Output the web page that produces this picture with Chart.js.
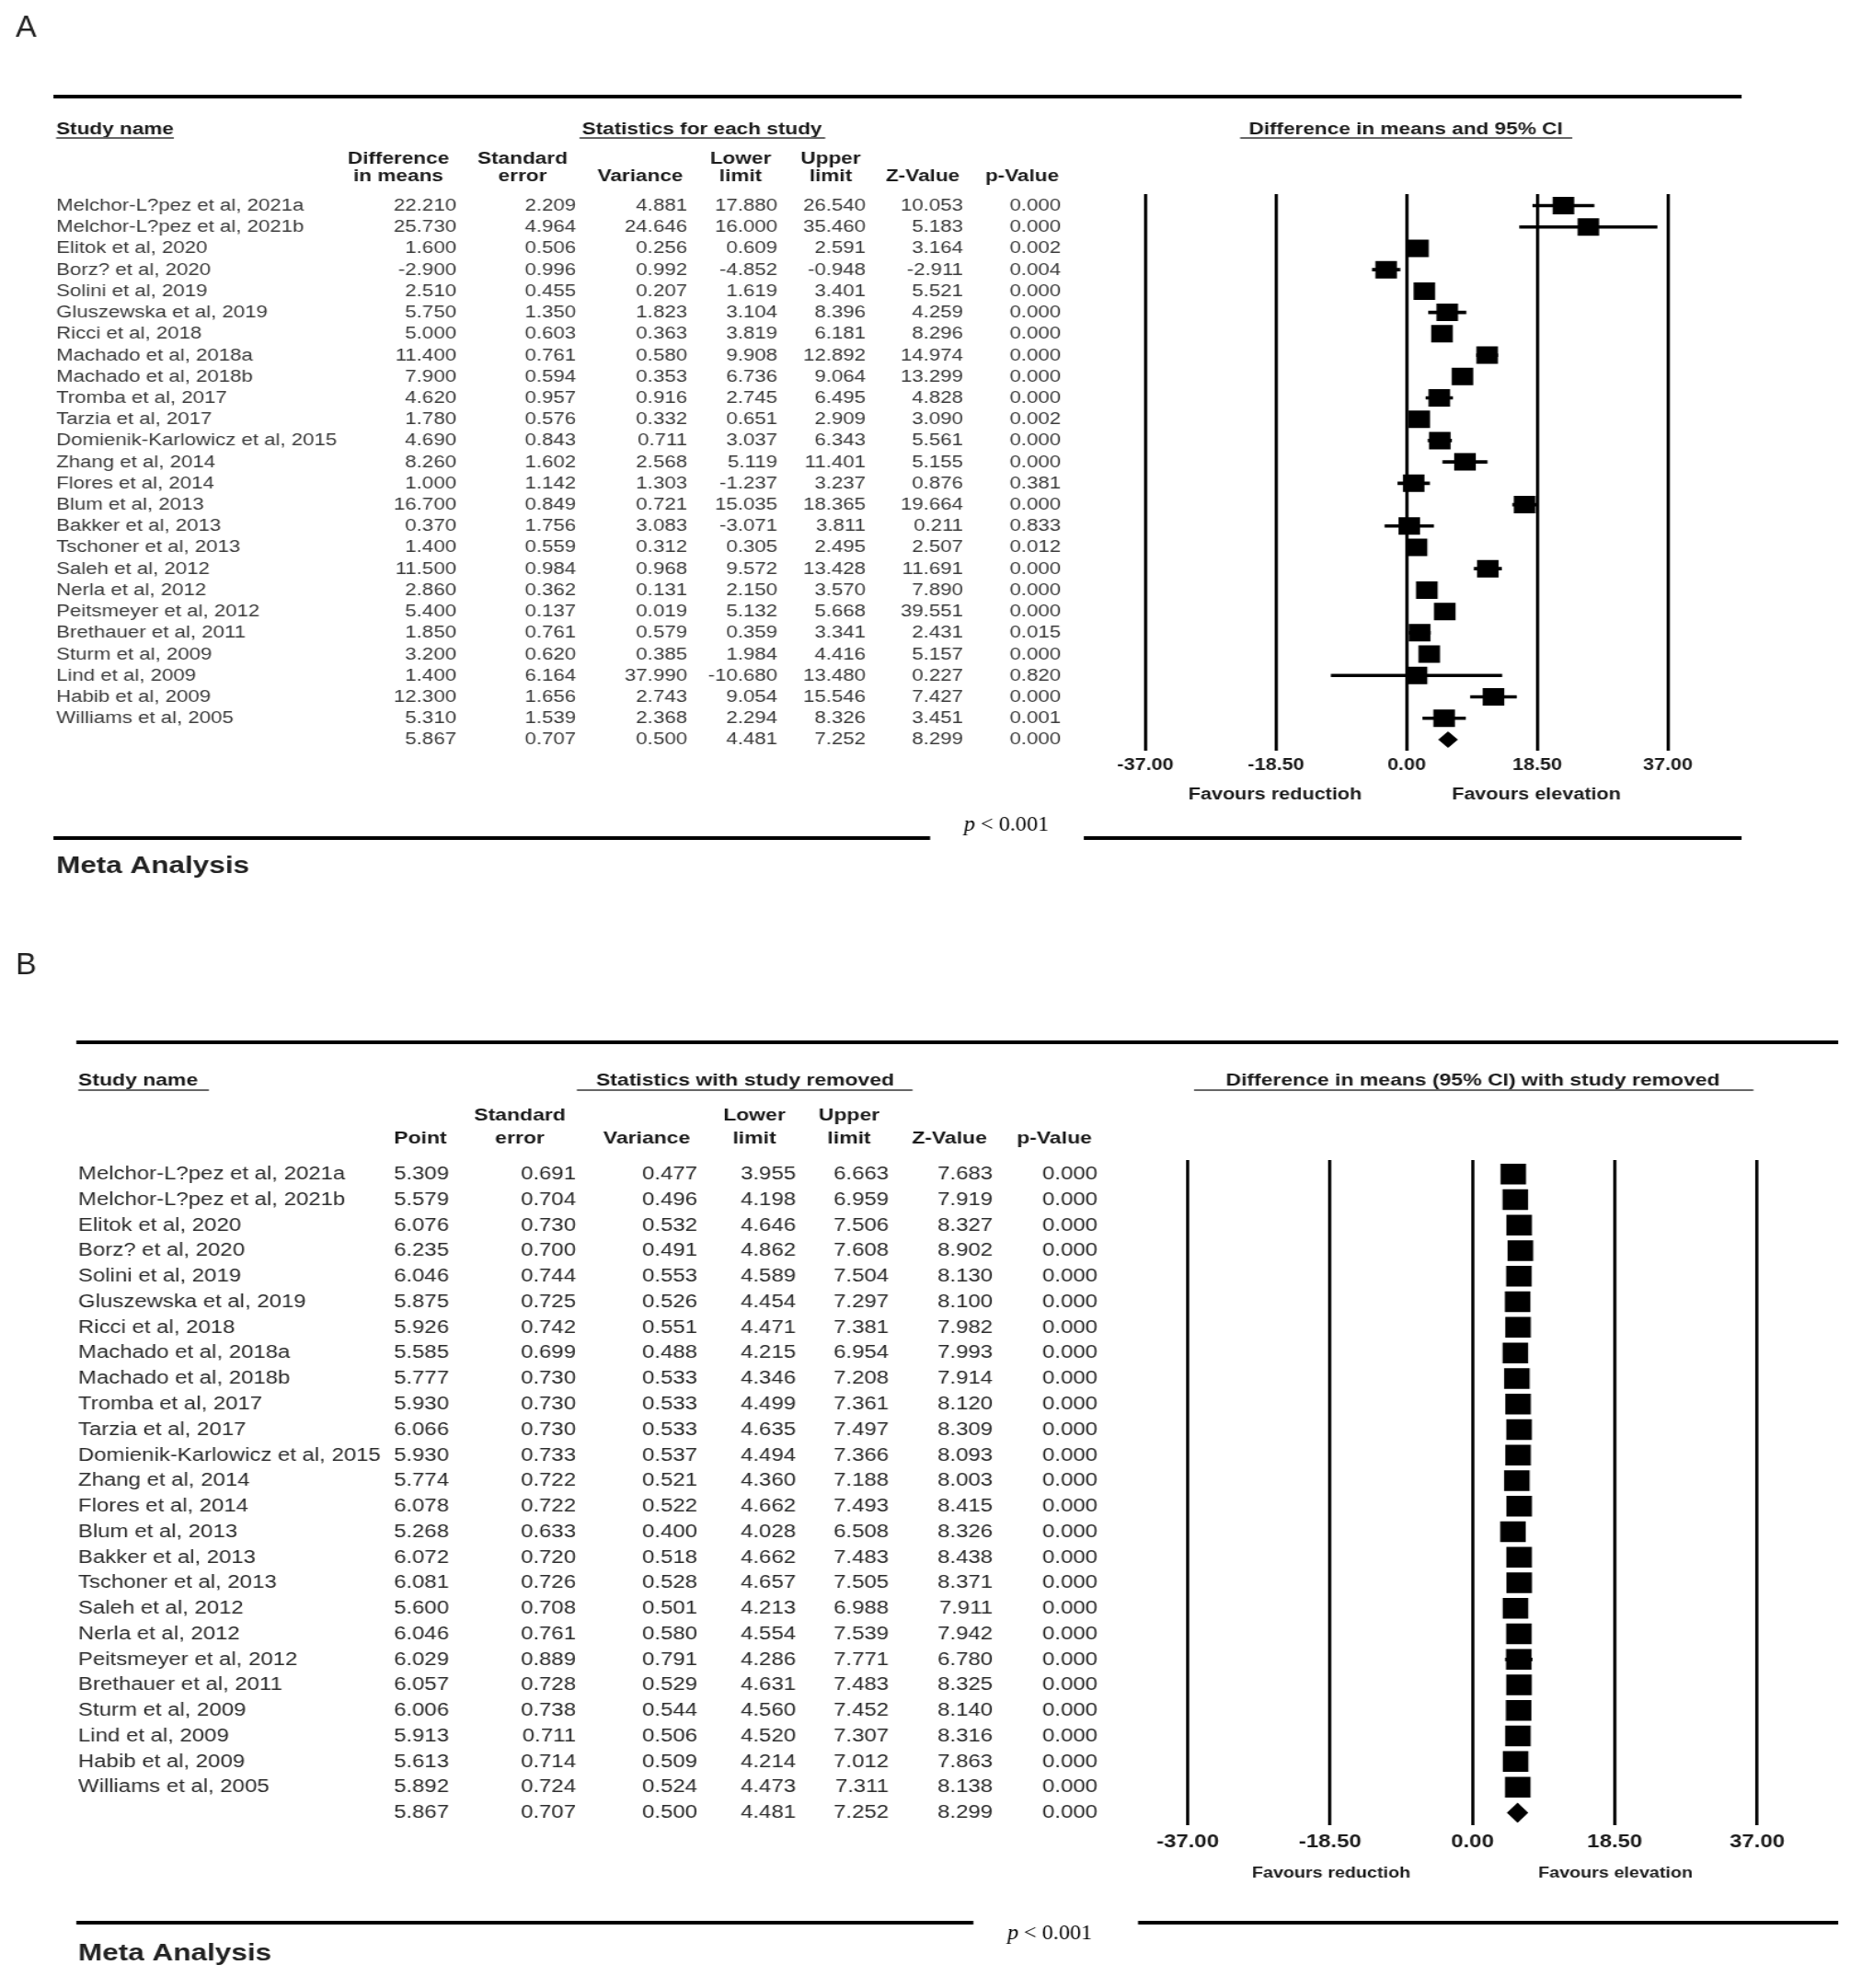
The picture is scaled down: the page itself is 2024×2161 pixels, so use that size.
<!DOCTYPE html>
<html>
<head>
<meta charset="utf-8">
<title>Meta Analysis</title>
<script src="https://cdn.jsdelivr.net/npm/chart.js@4/dist/chart.umd.min.js"></script>
<style>
  html, body { margin: 0; padding: 0; background: #fff; }
  body { width: 2024px; height: 2161px; position: relative; overflow: hidden; }
  canvas { position: absolute; left: 0; }
</style>
</head>
<body>
<canvas id="panelA" width="1639" height="1000" style="top:0px;width:2024px;height:1000px"></canvas>
<canvas id="panelB" width="1639" height="1161" style="top:1000px;width:2024px;height:1161px"></canvas>
<script>
// study labels (same order in both panels)
const studies = [
  "Melchor-L?pez et al, 2021a", "Melchor-L?pez et al, 2021b", "Elitok et al, 2020",
  "Borz? et al, 2020", "Solini et al, 2019", "Gluszewska et al, 2019", "Ricci et al, 2018",
  "Machado et al, 2018a", "Machado et al, 2018b", "Tromba et al, 2017", "Tarzia et al, 2017",
  "Domienik-Karlowicz et al, 2015", "Zhang et al, 2014", "Flores et al, 2014", "Blum et al, 2013",
  "Bakker et al, 2013", "Tschoner et al, 2013", "Saleh et al, 2012", "Nerla et al, 2012",
  "Peitsmeyer et al, 2012", "Brethauer et al, 2011", "Sturm et al, 2009", "Lind et al, 2009",
  "Habib et al, 2009", "Williams et al, 2005"
];

// panel A - statistics for each study
const diffA = [22.210, 25.730, 1.600, -2.900, 2.510, 5.750, 5.000, 11.400, 7.900, 4.620, 1.780, 4.690, 8.260, 1.000, 16.700, 0.370, 1.400, 11.500, 2.860, 5.400, 1.850, 3.200, 1.400, 12.300, 5.310];
const seA = [2.209, 4.964, 0.506, 0.996, 0.455, 1.350, 0.603, 0.761, 0.594, 0.957, 0.576, 0.843, 1.602, 1.142, 0.849, 1.756, 0.559, 0.984, 0.362, 0.137, 0.761, 0.620, 6.164, 1.656, 1.539];
const varA = [4.881, 24.646, 0.256, 0.992, 0.207, 1.823, 0.363, 0.580, 0.353, 0.916, 0.332, 0.711, 2.568, 1.303, 0.721, 3.083, 0.312, 0.968, 0.131, 0.019, 0.579, 0.385, 37.990, 2.743, 2.368];
const lowerA = [17.880, 16.000, 0.609, -4.852, 1.619, 3.104, 3.819, 9.908, 6.736, 2.745, 0.651, 3.037, 5.119, -1.237, 15.035, -3.071, 0.305, 9.572, 2.150, 5.132, 0.359, 1.984, -10.680, 9.054, 2.294];
const upperA = [26.540, 35.460, 2.591, -0.948, 3.401, 8.396, 6.181, 12.892, 9.064, 6.495, 2.909, 6.343, 11.401, 3.237, 18.365, 3.811, 2.495, 13.428, 3.570, 5.668, 3.341, 4.416, 13.480, 15.546, 8.326];
const zA = [10.053, 5.183, 3.164, -2.911, 5.521, 4.259, 8.296, 14.974, 13.299, 4.828, 3.090, 5.561, 5.155, 0.876, 19.664, 0.211, 2.507, 11.691, 7.890, 39.551, 2.431, 5.157, 0.227, 7.427, 3.451];
const pA = [0.000, 0.000, 0.002, 0.004, 0.000, 0.000, 0.000, 0.000, 0.000, 0.000, 0.002, 0.000, 0.000, 0.381, 0.000, 0.833, 0.012, 0.000, 0.000, 0.000, 0.015, 0.000, 0.820, 0.000, 0.001];
// point, se, variance, lower, upper, z, p
const summaryA = [5.867, 0.707, 0.500, 4.481, 7.252, 8.299, 0.000];

// panel B - statistics with study removed
const pointB = [5.309, 5.579, 6.076, 6.235, 6.046, 5.875, 5.926, 5.585, 5.777, 5.930, 6.066, 5.930, 5.774, 6.078, 5.268, 6.072, 6.081, 5.600, 6.046, 6.029, 6.057, 6.006, 5.913, 5.613, 5.892];
const seB = [0.691, 0.704, 0.730, 0.700, 0.744, 0.725, 0.742, 0.699, 0.730, 0.730, 0.730, 0.733, 0.722, 0.722, 0.633, 0.720, 0.726, 0.708, 0.761, 0.889, 0.728, 0.738, 0.711, 0.714, 0.724];
const varB = [0.477, 0.496, 0.532, 0.491, 0.553, 0.526, 0.551, 0.488, 0.533, 0.533, 0.533, 0.537, 0.521, 0.522, 0.400, 0.518, 0.528, 0.501, 0.580, 0.791, 0.529, 0.544, 0.506, 0.509, 0.524];
const lowerB = [3.955, 4.198, 4.646, 4.862, 4.589, 4.454, 4.471, 4.215, 4.346, 4.499, 4.635, 4.494, 4.360, 4.662, 4.028, 4.662, 4.657, 4.213, 4.554, 4.286, 4.631, 4.560, 4.520, 4.214, 4.473];
const upperB = [6.663, 6.959, 7.506, 7.608, 7.504, 7.297, 7.381, 6.954, 7.208, 7.361, 7.497, 7.366, 7.188, 7.493, 6.508, 7.483, 7.505, 6.988, 7.539, 7.771, 7.483, 7.452, 7.307, 7.012, 7.311];
const zB = [7.683, 7.919, 8.327, 8.902, 8.130, 8.100, 7.982, 7.993, 7.914, 8.120, 8.309, 8.093, 8.003, 8.415, 8.326, 8.438, 8.371, 7.911, 7.942, 6.780, 8.325, 8.140, 8.316, 7.863, 8.138];
const pB = [0.000, 0.000, 0.000, 0.000, 0.000, 0.000, 0.000, 0.000, 0.000, 0.000, 0.000, 0.000, 0.000, 0.000, 0.000, 0.000, 0.000, 0.000, 0.000, 0.000, 0.000, 0.000, 0.000, 0.000, 0.000];
const summaryB = [5.867, 0.707, 0.500, 4.481, 7.252, 8.299, 0.000];

// x axis tick values
const axisTicks = [-37, -18.5, 0, 18.5, 37];

// the original figure is stretched sideways, so the canvases are drawn
// narrower and widened by css
const CW = 1639;
const S = 2024 / CW;
const FONT = '"Liberation Sans", Arial, Helvetica, sans-serif';
const SERIF = '"Liberation Serif", "Times New Roman", serif';
const X = v => v / S;
const TEXT_DY = 0.5; // "middle" sits a little above the visual centre of the glyphs

function txt(ctx, str, x, y, o) {
  ctx.save();
  ctx.font = o.font;
  ctx.fillStyle = o.color || "#1a1a1a";
  ctx.textAlign = o.align || "left";
  ctx.textBaseline = "middle";
  ctx.translate(X(x), y + TEXT_DY);
  if (o.stretch) ctx.scale(o.stretch / S, 1);
  ctx.fillText(str, 0, 0);
  ctx.restore();
}

function hline(ctx, x1, x2, y, w, color) {
  ctx.save();
  ctx.strokeStyle = color;
  ctx.lineWidth = w;
  ctx.beginPath();
  ctx.moveTo(X(x1), y);
  ctx.lineTo(X(x2), y);
  ctx.stroke();
  ctx.restore();
}

// draws the table text, rules and the summary diamond for one panel
function tablePlugin(P) {
  return {
    id: "table" + P.letter,
    afterDatasetsDraw(chart) {
      const ctx = chart.ctx;
      const xs = chart.scales.x;
      const yy = chart.scales.y.getPixelForValue(P.names.length);
      const s = P.summary;
      ctx.save();
      ctx.fillStyle = "#000";
      ctx.beginPath();
      ctx.moveTo(xs.getPixelForValue(s[3]), yy);
      ctx.lineTo(xs.getPixelForValue(s[0]), yy - P.diamondH);
      ctx.lineTo(xs.getPixelForValue(s[4]), yy);
      ctx.lineTo(xs.getPixelForValue(s[0]), yy + P.diamondH);
      ctx.closePath();
      ctx.fill();
      ctx.restore();
    },
    afterDraw(chart) {
      const ctx = chart.ctx;
      const yS = chart.scales.y;
      const y = v => v - P.top0;
      const hb = `bold ${P.hdrFont}px ${FONT}`;
      const rf = `${P.rowFont}px ${FONT}`;

      txt(ctx, P.letter, 17, y(P.letterY), { font: `34px ${FONT}`, color: "#222", stretch: 1 });
      hline(ctx, P.ruleTop[0], P.ruleTop[1], y(P.ruleTopY), 4, "#000");

      // section titles
      txt(ctx, "Study name", P.nameX, y(P.titleY), { font: hb });
      hline(ctx, P.nameX, P.nameU, y(P.underY), 2, "#666");
      txt(ctx, P.statsTitle, P.statsX, y(P.titleY), { font: hb, align: "center" });
      hline(ctx, P.statsU[0], P.statsU[1], y(P.underY), 2, "#666");
      txt(ctx, P.plotTitle, P.plotX, y(P.titleY), { font: hb, align: "center" });
      hline(ctx, P.plotU[0], P.plotU[1], y(P.underY), 2, "#666");

      // column headers
      P.headers.forEach(([lines, cx]) => {
        lines.forEach((t, k) => {
          if (t) txt(ctx, t, cx, y(P.hdrY[k]), { font: hb, align: "center" });
        });
      });

      // rows
      P.names.forEach((n, i) => {
        const yy = yS.getPixelForValue(i);
        txt(ctx, n, P.nameX, yy, { font: rf, color: P.rowColor });
        P.cols.forEach((arr, c) => {
          txt(ctx, arr[i].toFixed(3), P.colRight[c], yy, { font: rf, color: P.rowColor, align: "right" });
        });
      });
      const ys = yS.getPixelForValue(P.names.length);
      P.summary.forEach((v, c) => {
        txt(ctx, v.toFixed(3), P.colRight[c], ys, { font: rf, color: P.rowColor, align: "right" });
      });

      // favours labels
      const ff = `bold ${P.favFont}px ${FONT}`;
      txt(ctx, "Favours reductioh", P.favX[0], y(P.favY), { font: ff, align: "center" });
      txt(ctx, "Favours elevation", P.favX[1], y(P.favY), { font: ff, align: "center" });

      // bottom rules and p value
      P.ruleBottom.forEach(([a, b]) => hline(ctx, a, b, y(P.ruleBottomY), 4, "#000"));
      ctx.save();
      ctx.fillStyle = "#000";
      ctx.textBaseline = "middle";
      ctx.translate(X(P.pX), y(P.pY) + TEXT_DY);
      ctx.scale(1.05 / S, 1);
      const fi = `italic 23px ${SERIF}`, fr = `23px ${SERIF}`;
      ctx.font = fi;
      const w1 = ctx.measureText("p").width;
      ctx.font = fr;
      const w2 = ctx.measureText(" < 0.001").width;
      const x0 = -(w1 + w2) / 2;
      ctx.font = fi;
      ctx.fillText("p", x0, 0);
      ctx.font = fr;
      ctx.fillText(" < 0.001", x0 + w1, 0);
      ctx.restore();

      txt(ctx, "Meta Analysis", P.nameX, y(P.metaY), { font: `bold 25.5px ${FONT}`, color: "#222" });
    }
  };
}

function forestPanel(id, P) {
  const canvas = document.getElementById(id);
  const H = canvas.height;
  const axisH = 40;
  new Chart(canvas, {
    type: "scatter",
    data: {
      datasets: [
        {
          type: "bar",
          indexAxis: "y",
          data: P.lower.map((lo, i) => ({ x: [lo, P.upper[i]], y: i })),
          backgroundColor: "#000",
          borderWidth: 0,
          barThickness: P.ciWidth,
          order: 2
        },
        {
          type: "scatter",
          data: P.point.map((v, i) => ({ x: v, y: i })),
          pointStyle: "rect",
          pointRadius: P.box / Math.SQRT2,
          backgroundColor: "#000",
          borderWidth: 0,
          order: 1
        }
      ]
    },
    options: {
      responsive: false,
      animation: false,
      events: [],
      layout: {
        padding: {
          left: X(P.plotLeft),
          right: CW - X(P.plotRight),
          top: P.plotTop - P.top0,
          bottom: H - (P.plotBottom - P.top0) - axisH
        }
      },
      plugins: { legend: { display: false }, tooltip: { enabled: false } },
      scales: {
        x: {
          type: "linear",
          min: axisTicks[0],
          max: axisTicks[axisTicks.length - 1],
          afterBuildTicks: s => { s.ticks = axisTicks.map(v => ({ value: v })); },
          afterFit: s => { s.height = axisH; },
          grid: { color: "#000", lineWidth: 2.8, drawTicks: false },
          border: { display: false },
          ticks: {
            callback: v => Number(v).toFixed(2),
            font: { family: FONT, weight: "bold", size: P.tickFont },
            color: "#1a1a1a",
            padding: P.tickPad,
            maxRotation: 0,
            autoSkip: false
          }
        },
        y: {
          type: "linear",
          reverse: true,
          min: P.ymin,
          max: P.ymax,
          offset: false,
          display: false,
          grid: { display: false }
        }
      }
    },
    plugins: [tablePlugin(P)]
  });
}

forestPanel("panelA", {
  letter: "A", top0: 0, letterY: 30,
  names: studies, point: diffA, lower: lowerA, upper: upperA,
  cols: [diffA, seA, varA, lowerA, upperA, zA, pA], summary: summaryA,
  ruleTop: [58, 1893], ruleTopY: 105,
  titleY: 140, underY: 150, nameX: 61, nameU: 189,
  statsTitle: "Statistics for each study", statsX: 763, statsU: [630, 897],
  plotTitle: "Difference in means and 95% CI", plotX: 1528, plotU: [1348, 1709],
  hdrY: [172, 191],
  headers: [[["Difference", "in means"], 433], [["Standard", "error"], 568], [["", "Variance"], 696],
            [["Lower", "limit"], 805], [["Upper", "limit"], 903], [["", "Z-Value"], 1003], [["", "p-Value"], 1111]],
  colRight: [496, 626, 747, 845, 941, 1047, 1153],
  rowFont: 18, hdrFont: 18.3, tickFont: 17.5, favFont: 17.5, rowColor: "#3a3a3a",
  plotLeft: 1245, plotRight: 1813, plotTop: 211, plotBottom: 816,
  ymin: -0.54, ymax: 25.52, box: 19, ciWidth: 3, diamondH: 9, tickPad: 6,
  favY: 864, favX: [1386, 1670],
  pX: 1094, pY: 896, ruleBottomY: 911, ruleBottom: [[58, 1011], [1178, 1893]],
  metaY: 941
});

forestPanel("panelB", {
  letter: "B", top0: 1000, letterY: 1049,
  names: studies, point: pointB, lower: lowerB, upper: upperB,
  cols: [pointB, seB, varB, lowerB, upperB, zB, pB], summary: summaryB,
  ruleTop: [83, 1998], ruleTopY: 1133,
  titleY: 1174, underY: 1185, nameX: 85, nameU: 227,
  statsTitle: "Statistics with study removed", statsX: 810, statsU: [627, 992],
  plotTitle: "Difference in means (95% CI) with study removed", plotX: 1601, plotU: [1298, 1906],
  hdrY: [1212, 1237],
  headers: [[["", "Point"], 457], [["Standard", "error"], 565], [["", "Variance"], 703],
            [["Lower", "limit"], 820], [["Upper", "limit"], 923], [["", "Z-Value"], 1032], [["", "p-Value"], 1146]],
  colRight: [488, 626, 758, 865, 966, 1079, 1193],
  rowFont: 19.4, hdrFont: 18.6, tickFont: 19.4, favFont: 16, rowColor: "#2a2a2a",
  plotLeft: 1291, plotRight: 1910, plotTop: 1261, plotBottom: 1984,
  ymin: -0.55, ymax: 25.49, box: 22.5, ciWidth: 3, diamondH: 11, tickPad: 7,
  favY: 2036, favX: [1447, 1756],
  pX: 1141, pY: 2101, ruleBottomY: 2090, ruleBottom: [[83, 1058], [1237, 1998]],
  metaY: 2123
});
</script>
</body>
</html>
